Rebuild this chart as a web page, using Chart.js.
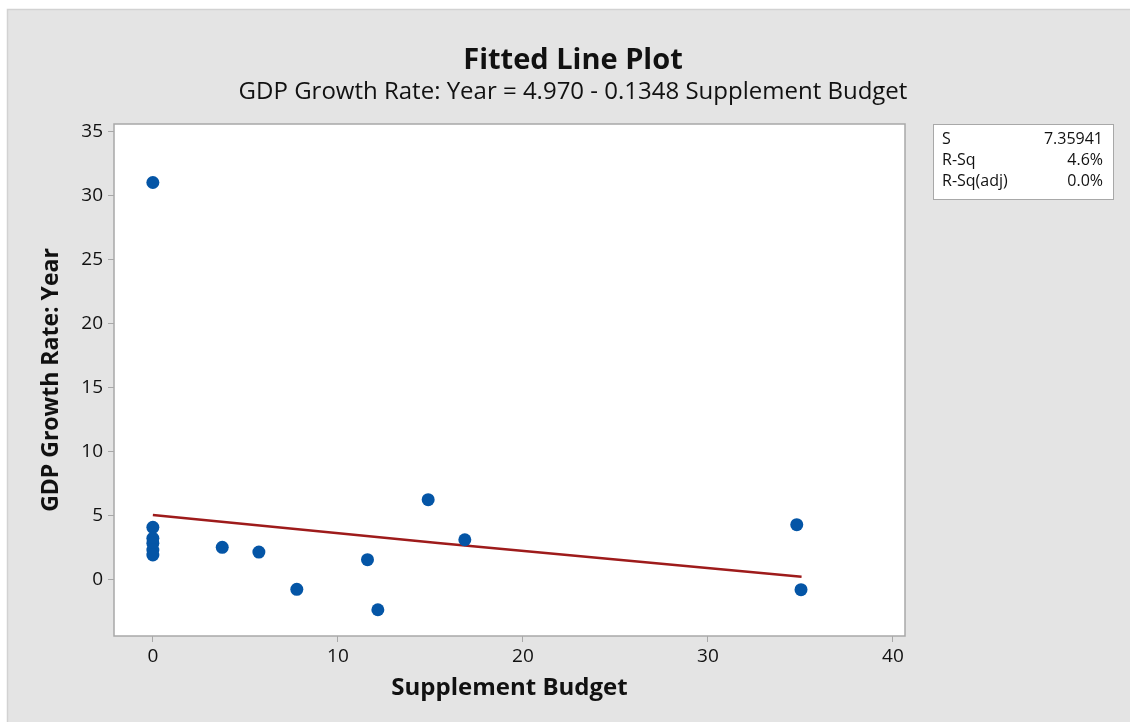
<!DOCTYPE html>
<html lang="en">
<head>
    <meta charset="UTF-8">
    <title>Fitted Line Plot</title>
    <script src="https://cdn.jsdelivr.net/npm/chart.js@4.4.1/dist/chart.umd.min.js"></script>
    <style>
        html, body { margin: 0; padding: 0; background: #ffffff; }
        #wrap { width: 1130px; height: 722px; }
    </style>
</head>
<body>
<div id="wrap"><canvas id="fitChart" width="1130" height="722"></canvas></div>
<script>
    var budgetX = [0, 0, 0, 0, 0, 0, 3.75, 5.73, 7.78, 11.6, 12.16, 14.88, 16.86, 34.8, 35.03];
    var growthY = [31.0, 4.06, 3.2, 2.81, 2.29, 1.9, 2.5, 2.13, -0.78, 1.53, -2.38, 6.22, 3.09, 4.27, -0.81];

    // fitted line as drawn
    var fitX = [0, 15.4, 35.06];
    var fitY = [5.02, 2.84, 0.2];

    var xTicks = [0, 10, 20, 30, 40];
    var yTicks = [0, 5, 10, 15, 20, 25, 30, 35];

    var statNames = ['S', 'R-Sq', 'R-Sq(adj)'];
    var statValues = ['7.35941', '4.6%', '0.0%'];

    var FONT = "'Open Sans', 'Noto Sans', sans-serif";

    // background, white plot area, frame and stats box
    var framePlugin = {
        id: 'framePlugin',
        beforeDraw: function(chart) {
            var c = chart.ctx;
            var a = chart.chartArea;
            c.save();
            c.fillStyle = '#ffffff';
            c.fillRect(0, 0, chart.width, chart.height);
            c.fillStyle = '#e4e4e4';
            c.fillRect(7, 9, chart.width - 7, chart.height - 9);
            c.strokeStyle = '#d2d2d2';
            c.lineWidth = 1.5;
            c.beginPath();
            c.moveTo(7.5, chart.height);
            c.lineTo(7.5, 9.5);
            c.lineTo(chart.width, 9.5);
            c.stroke();
            c.fillStyle = '#ffffff';
            c.fillRect(a.left, a.top, a.right - a.left, a.bottom - a.top);
            c.restore();
        },
        afterDraw: function(chart) {
            var c = chart.ctx;
            var a = chart.chartArea;
            c.save();
            c.strokeStyle = '#a8a8a8';
            c.lineWidth = 1.5;
            c.strokeRect(a.left, a.top, a.right - a.left, a.bottom - a.top);

            // stats box
            var bx = 933, by = 124, bw = 180, bh = 75;
            c.fillStyle = '#ffffff';
            c.fillRect(bx, by, bw, bh);
            c.strokeStyle = '#a8a8a8';
            c.lineWidth = 1;
            c.strokeRect(bx + 0.5, by + 0.5, bw, bh);
            c.fillStyle = '#111111';
            c.font = '16px ' + FONT;
            c.textBaseline = 'middle';
            for (var i = 0; i < statNames.length; i++) {
                var ty = by + 15 + i * 21;
                c.textAlign = 'left';
                c.fillText(statNames[i], bx + 9, ty);
                c.textAlign = 'right';
                c.fillText(statValues[i], bx + bw - 10, ty);
            }
            c.restore();
        }
    };

    var scatterData = budgetX.map(function(x, i) { return { x: x, y: growthY[i] }; });
    var fitData = fitX.map(function(x, i) { return { x: x, y: fitY[i] }; });

    new Chart(document.getElementById('fitChart').getContext('2d'), {
        type: 'scatter',
        data: {
            datasets: [{
                label: 'Fit',
                type: 'line',
                data: fitData,
                borderColor: '#9e1b1b',
                borderWidth: 2.5,
                pointRadius: 0,
                fill: false,
                tension: 0,
                order: 2
            }, {
                label: 'Observed',
                data: scatterData,
                backgroundColor: '#0455a6',
                borderColor: '#0455a6',
                pointRadius: 6.5,
                pointBorderWidth: 0,
                order: 1
            }]
        },
        options: {
            responsive: false,
            animation: false,
            layout: {
                padding: { top: 28, right: 0, bottom: 0, left: 16 }
            },
            plugins: {
                legend: { display: false },
                tooltip: { enabled: false },
                title: {
                    display: true,
                    text: 'Fitted Line Plot',
                    color: '#111111',
                    font: { family: FONT, size: 29, weight: 'bold' },
                    padding: { top: 15, bottom: 0 }
                },
                subtitle: {
                    display: true,
                    text: 'GDP Growth Rate: Year = 4.970 - 0.1348 Supplement Budget',
                    color: '#111111',
                    font: { family: FONT, size: 24 },
                    padding: { top: 0, bottom: 17.4 }
                }
            },
            scales: {
                x: {
                    type: 'linear',
                    min: -2.1,
                    max: 40.65,
                    afterBuildTicks: function(scale) {
                        scale.ticks = xTicks.map(function(v) { return { value: v }; });
                    },
                    afterFit: function(scale) { scale.height = 86; },
                    grid: { drawOnChartArea: false, tickLength: 6, color: '#a8a8a8' },
                    border: { display: false },
                    ticks: {
                        color: '#111111',
                        font: { family: FONT, size: 19 },
                        padding: 3,
                        maxRotation: 0
                    },
                    title: {
                        display: true,
                        text: 'Supplement Budget',
                        color: '#111111',
                        font: { family: FONT, size: 24, weight: 'bold' },
                        padding: { top: 0, bottom: 19 }
                    }
                },
                y: {
                    type: 'linear',
                    min: -4.43,
                    max: 35.57,
                    afterBuildTicks: function(scale) {
                        scale.ticks = yTicks.map(function(v) { return { value: v }; });
                    },
                    afterFit: function(scale) { scale.width = 98; },
                    grid: { drawOnChartArea: false, tickLength: 6, color: '#a8a8a8' },
                    border: { display: false },
                    ticks: {
                        color: '#111111',
                        font: { family: FONT, size: 19 },
                        padding: 5
                    },
                    title: {
                        display: true,
                        text: 'GDP Growth Rate: Year',
                        color: '#111111',
                        font: { family: FONT, size: 23, weight: 'bold' },
                        padding: { top: 22, bottom: 4 }
                    }
                },
                // empty right-hand strip that holds the stats box
                yR: {
                    type: 'linear',
                    position: 'right',
                    min: 0,
                    max: 1,
                    afterFit: function(scale) { scale.width = 225; },
                    grid: { display: false },
                    border: { display: false },
                    ticks: { display: false }
                }
            }
        },
        plugins: [framePlugin]
    });
</script>
</body>
</html>
